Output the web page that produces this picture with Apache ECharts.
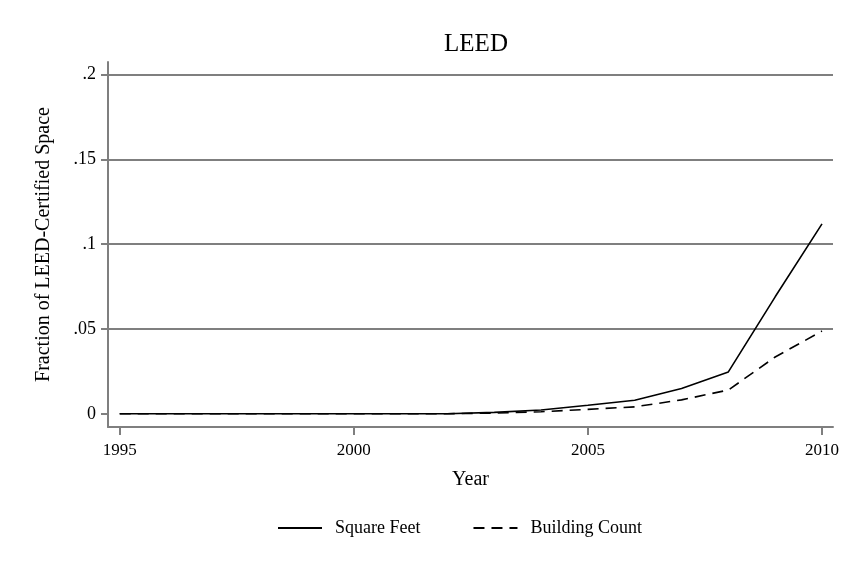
<!DOCTYPE html>
<html><head><meta charset="utf-8">
<script src="https://cdn.jsdelivr.net/npm/echarts@6/dist/echarts.min.js"></script>
<style>html,body{margin:0;padding:0;background:#fff}#c{width:855px;height:570px}</style>
</head><body><div id="c"></div>
<script>
const years = [1995,1996,1997,1998,1999,2000,2001,2002,2003,2004,2005,2006,2007,2008,2009,2010];
const squareFeet = [0,0,0,0,0,0,0,0,0.0008,0.0022,0.0050,0.0080,0.0149,0.0247,0.0690,0.1120];
const buildingCount = [0,0,0,0,0,0,0,0,0.0004,0.0012,0.0026,0.0041,0.0082,0.0140,0.0335,0.0488];
const xTicks = [1995,2000,2005,2010];
const yTicks = [0,0.05,0.1,0.15,0.2];
const gridValues = [0.05,0.1,0.15,0.2];

const font = 'Liberation Serif';
const gray = '#7f7f7f';
const chart = echarts.init(document.getElementById('c'));
chart.setOption({
  animation:false,
  backgroundColor:'#fff',
  title:{text:'LEED',left:471,textAlign:'center',top:27,textStyle:{fontFamily:font,fontWeight:'normal',fontSize:25,color:'#000'}},
  grid:{left:108,right:22,top:62,bottom:143},
  legend:{
    top:514,left:272,itemWidth:44,itemHeight:12,itemGap:52,
    itemStyle:{opacity:0},
    textStyle:{fontFamily:font,fontSize:18,color:'#000',padding:[0,0,0,8]},
    data:['Square Feet','Building Count']
  },
  xAxis:{
    type:'value',min:1994.75,max:2010.235,
    name:'Year',nameLocation:'middle',nameGap:43,
    nameTextStyle:{fontFamily:font,fontSize:20,color:'#000'},
    axisLine:{show:true,onZero:false,lineStyle:{color:gray,width:2}},
    axisTick:{show:true,inside:false,length:8,customValues:xTicks,lineStyle:{color:gray,width:2}},
    axisLabel:{customValues:xTicks,fontFamily:font,fontSize:17,color:'#000',margin:15,formatter:v=>String(v)},
    splitLine:{show:false}
  },
  yAxis:{
    type:'value',min:-0.0078,max:0.2075,
    name:'Fraction of LEED-Certified Space',nameLocation:'middle',nameGap:54,
    nameTextStyle:{fontFamily:font,fontSize:20,color:'#000'},
    axisLine:{show:true,onZero:false,lineStyle:{color:gray,width:2}},
    axisTick:{show:true,inside:false,length:7,customValues:yTicks,lineStyle:{color:gray,width:2}},
    axisLabel:{customValues:yTicks,fontFamily:font,fontSize:18,color:'#000',margin:12,
      formatter:v=>v===0?'0':String(+v.toFixed(2)).replace(/^0/,'')},
    splitLine:{show:false}
  },
  series:[
    {name:'Square Feet',type:'line',symbol:'none',z:3,
     data:years.map((y,i)=>[y,squareFeet[i]]),
     lineStyle:{color:'#000',width:1.6},itemStyle:{color:'#000'},
     markLine:{silent:true,symbol:'none',label:{show:false},animation:false,z:1,
       lineStyle:{color:gray,width:2,type:'solid'},
       data:gridValues.map(v=>({yAxis:v}))}},
    {name:'Building Count',type:'line',symbol:'none',z:3,
     data:years.map((y,i)=>[y,buildingCount[i]]),
     lineStyle:{color:'#000',width:1.6,type:[11,7]},itemStyle:{color:'#000'}}
  ]
});
</script></body></html>
